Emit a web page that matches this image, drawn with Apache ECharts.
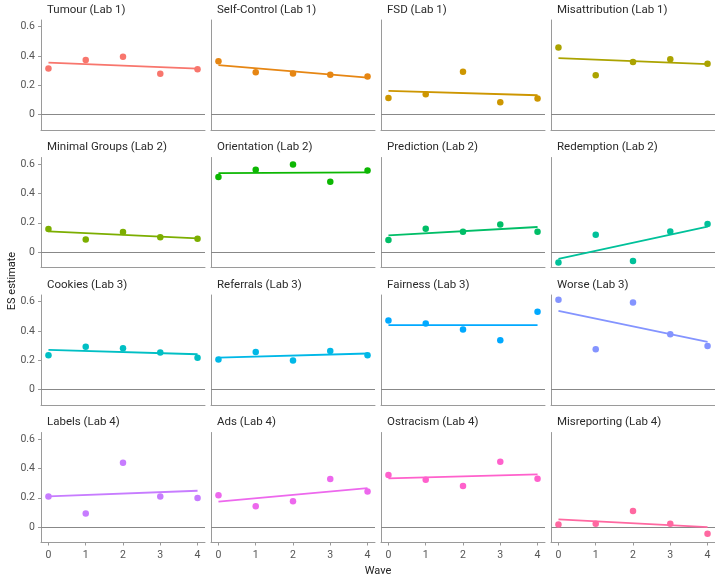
<!DOCTYPE html>
<html>
<head>
<meta charset="utf-8">
<script src="https://cdn.jsdelivr.net/npm/echarts@6/dist/echarts.min.js"></script>
<style>html,body{margin:0;padding:0;background:#fff}#c{width:715px;height:578px}</style>
</head>
<body>
<div id="c"></div>
<script>
// ---- data ----
const waves = [0, 1, 2, 3, 4];
const yTicks = [0, 0.2, 0.4, 0.6];
const panelTitles = [
  'Tumour (Lab 1)', 'Self-Control (Lab 1)', 'FSD (Lab 1)', 'Misattribution (Lab 1)',
  'Minimal Groups (Lab 2)', 'Orientation (Lab 2)', 'Prediction (Lab 2)', 'Redemption (Lab 2)',
  'Cookies (Lab 3)', 'Referrals (Lab 3)', 'Fairness (Lab 3)', 'Worse (Lab 3)',
  'Labels (Lab 4)', 'Ads (Lab 4)', 'Ostracism (Lab 4)', 'Misreporting (Lab 4)'
];
const tumour        = [0.314, 0.373, 0.394, 0.278, 0.309];
const selfControl   = [0.364, 0.289, 0.280, 0.271, 0.259];
const fsd           = [0.114, 0.139, 0.293, 0.084, 0.109];
const misattribution= [0.457, 0.268, 0.359, 0.378, 0.346];
const minimalGroups = [0.157, 0.086, 0.137, 0.102, 0.091];
const orientation   = [0.512, 0.562, 0.598, 0.480, 0.557];
const prediction    = [0.082, 0.159, 0.139, 0.189, 0.139];
const redemption    = [-0.071, 0.118, -0.061, 0.141, 0.191];
const cookies       = [0.234, 0.293, 0.282, 0.253, 0.218];
const referrals     = [0.205, 0.257, 0.198, 0.264, 0.234];
const fairness      = [0.471, 0.450, 0.410, 0.337, 0.530];
const worse         = [0.612, 0.275, 0.594, 0.378, 0.298];
const labels        = [0.209, 0.093, 0.439, 0.209, 0.198];
const ads           = [0.218, 0.143, 0.177, 0.328, 0.243];
const ostracism     = [0.355, 0.323, 0.280, 0.446, 0.330];
const misreporting  = [0.018, 0.023, 0.109, 0.023, -0.046];
// fitted trend line values at wave 0 and wave 4
const fitStart = [0.355, 0.337, 0.162, 0.385, 0.141, 0.539, 0.114, -0.046, 0.271, 0.218, 0.439, 0.537, 0.209, 0.173, 0.332, 0.052];
const fitEnd   = [0.313, 0.252, 0.132, 0.344, 0.093, 0.544, 0.171, 0.173, 0.241, 0.246, 0.439, 0.325, 0.248, 0.266, 0.360, 0.000];
const colors = ['#F8766D', '#E68613', '#CD9600', '#ABA300', '#7CAE00', '#0CB702', '#00BE67', '#00C19A',
                '#00BFC4', '#00B8E7', '#00A9FF', '#8494FF', '#C77CFF', '#ED68ED', '#FF61CC', '#FF68A1'];
const panelValues = [tumour, selfControl, fsd, misattribution, minimalGroups, orientation, prediction, redemption,
                     cookies, referrals, fairness, worse, labels, ads, ostracism, misreporting];

// ---- layout ----
const colLeft = [41, 211, 381, 551];
const rowTop = [20, 157.5, 295, 432.5];
const pw = 164, ph = 110;
const axisColor = '#9a9a9a';
const zeroColor = '#888888';
const font = 'Roboto, "Noto Sans", sans-serif';

const grid = [], xAxis = [], yAxis = [], series = [], title = [];
panelTitles.forEach((t, i) => {
  const r = Math.floor(i / 4), c = i % 4;
  grid.push({left: colLeft[c], top: rowTop[r], width: pw, height: ph, containLabel: false});
  title.push({text: t, left: colLeft[c] + 6, top: rowTop[r] - 16, padding: 0,
    textStyle: {fontSize: 11.5, fontWeight: 'normal', color: '#2a2a2a', fontFamily: font}});
  xAxis.push({
    type: 'value', gridIndex: i, min: -0.2, max: 4.2,
    axisLine: {show: true, onZero: false, lineStyle: {color: axisColor, width: 1}},
    axisTick: {show: r === 3, customValues: waves, length: 3, lineStyle: {color: axisColor}},
    axisLabel: {show: r === 3, customValues: waves, fontSize: 10.5, color: '#555', margin: 7, fontFamily: font},
    splitLine: {show: false}
  });
  yAxis.push({
    type: 'value', gridIndex: i, min: -0.105, max: 0.645,
    axisLine: {show: true, onZero: false, lineStyle: {color: axisColor, width: 1}},
    axisTick: {show: c === 0, customValues: yTicks, length: 3, lineStyle: {color: axisColor}},
    axisLabel: {show: c === 0, customValues: yTicks, fontSize: 10.5, color: '#555', margin: 6, fontFamily: font},
    splitLine: {show: false}
  });
  series.push({
    type: 'line', xAxisIndex: i, yAxisIndex: i, silent: true,
    data: [[waves[0], fitStart[i]], [waves[waves.length - 1], fitEnd[i]]],
    symbol: 'none', lineStyle: {color: colors[i], width: 1.8}, z: 3,
    markLine: {silent: true, symbol: 'none', label: {show: false},
      lineStyle: {color: zeroColor, width: 1, type: 'solid'}, data: [{yAxis: 0}], z: 1}
  });
  series.push({
    type: 'scatter', xAxisIndex: i, yAxisIndex: i, silent: true,
    data: waves.map((w, k) => [w, panelValues[i][k]]),
    symbol: 'circle', symbolSize: 6.5, itemStyle: {color: colors[i], opacity: 1}, z: 4
  });
});

const chart = echarts.init(document.getElementById('c'), null, {renderer: 'canvas'});
chart.setOption({
  animation: false,
  backgroundColor: '#fff',
  title, grid, xAxis, yAxis, series,
  graphic: [
    {type: 'text', x: 12, y: 281, rotation: Math.PI / 2,
      style: {text: 'ES estimate', fontSize: 11, fill: '#222', fontFamily: font, align: 'center', verticalAlign: 'middle'}},
    {type: 'text', x: 378, y: 571,
      style: {text: 'Wave', fontSize: 11, fill: '#222', fontFamily: font, align: 'center', verticalAlign: 'middle'}}
  ]
});
</script>
</body>
</html>
